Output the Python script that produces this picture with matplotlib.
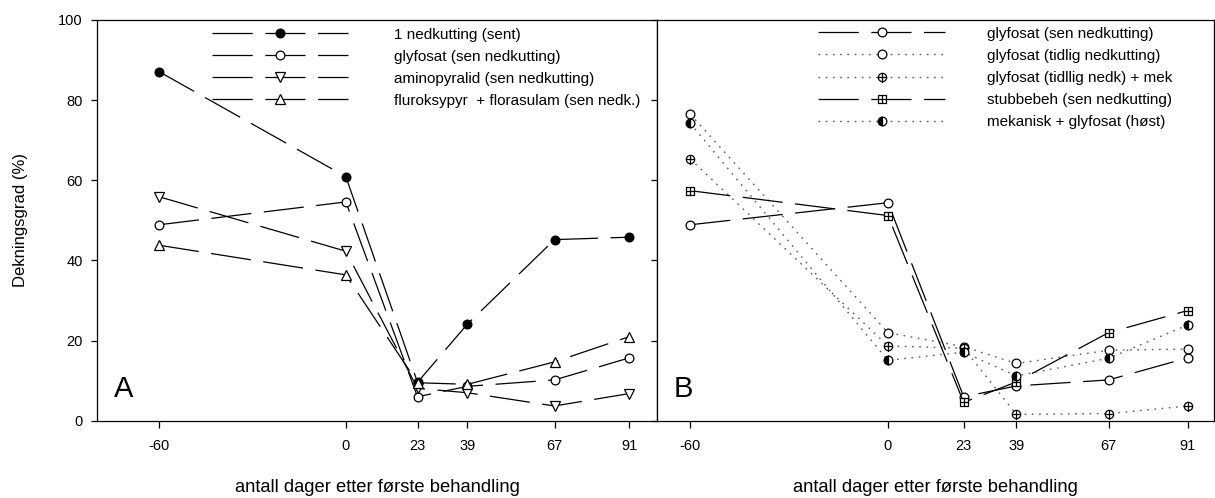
import matplotlib.pyplot as plt
from matplotlib.path import Path

plt.rcParams['font.family'] = ['Liberation Sans', 'DejaVu Sans']
plt.rcParams['lines.scale_dashes'] = False

days = [-60, 0, 23, 39, 67, 91]
xticks = [-60, 0, 23, 39, 67, 91]

# panel A
a_labels = ['1 nedkutting (sent)', 'glyfosat (sen nedkutting)',
            'aminopyralid (sen nedkutting)', 'fluroksypyr  + florasulam (sen nedk.)']
a_nedkutting = [87.1, 60.9, 9.6, 24.1, 45.2, 45.8]
a_glyfosat = [48.9, 54.6, 6.0, 8.6, 10.2, 15.7]
a_aminopyralid = [55.9, 42.3, 8.1, 7.0, 3.7, 6.8]
a_fluroksypyr = [43.8, 36.4, 9.5, 9.1, 14.7, 21.0]

# panel B
b_labels = ['glyfosat (sen nedkutting)', 'glyfosat (tidlig nedkutting)',
            'glyfosat (tidllig nedk) + mek', 'stubbebeh (sen nedkutting)',
            'mekanisk + glyfosat (høst)']
b_glyf_sen = [48.9, 54.4, 6.0, 8.7, 10.2, 15.7]
b_glyf_tidlig = [76.5, 22.0, 18.5, 14.3, 17.6, 17.9]
b_glyf_mek = [65.3, 18.7, 18.1, 1.6, 1.8, 3.7]
b_stubbe = [57.4, 51.2, 4.6, 9.7, 22.0, 27.5]
b_mek_host = [74.2, 15.1, 17.1, 11.2, 15.6, 23.9]

circ_plus = Path.make_compound_path(
    Path.unit_circle(),
    Path([[-1, 0], [1, 0]], [Path.MOVETO, Path.LINETO]),
    Path([[0, -1.3], [0, 1]], [Path.MOVETO, Path.LINETO]))
sq_plus = Path.make_compound_path(
    Path([[-1, -1], [1, -1], [1, 1], [-1, 1], [-1, -1]],
         [Path.MOVETO, Path.LINETO, Path.LINETO, Path.LINETO, Path.CLOSEPOLY]),
    Path([[-1, 0], [1, 0]], [Path.MOVETO, Path.LINETO]),
    Path([[0, -1], [0, 1]], [Path.MOVETO, Path.LINETO]))

dash = (29, 9)
dot = (1.2, 4)
lw = 0.9

fig = plt.figure(figsize=(12.15, 4.98), dpi=100)
axA = fig.add_axes([0.0796, 0.155, 0.4614, 0.805])
axB = fig.add_axes([0.541, 0.155, 0.4582, 0.805])

kw = dict(color='black', lw=lw, mec='black', mew=0.9)
axA.plot(days, a_nedkutting, marker='o', ms=6.3, mfc='black', dashes=dash, label=a_labels[0], **kw)
axA.plot(days, a_glyfosat, marker='o', ms=6.3, mfc='white', dashes=dash, label=a_labels[1], **kw)
axA.plot(days, a_aminopyralid, marker='v', ms=7.3, mfc='white', dashes=dash, label=a_labels[2], **kw)
axA.plot(days, a_fluroksypyr, marker='^', ms=7.3, mfc='white', dashes=dash, label=a_labels[3], **kw)

axB.plot(days, b_glyf_sen, marker='o', ms=6.3, mfc='white', dashes=dash, label=b_labels[0], **kw)
dkw = dict(color='0.35', lw=1.0, mec='black', mew=0.9)
axB.plot(days, b_glyf_tidlig, marker='o', ms=6.3, mfc='white', dashes=dot, label=b_labels[1], **dkw)
axB.plot(days, b_glyf_mek, marker=circ_plus, ms=7.8, mfc='white', dashes=dot, label=b_labels[2], **dkw)
axB.plot(days, b_stubbe, marker=sq_plus, ms=6.2, mfc='white', dashes=dash, label=b_labels[3], **kw)
axB.plot(days, b_mek_host, marker='o', ms=6.3, fillstyle='left', mfc='black', mfcalt='white',
         dashes=dot, label=b_labels[4], **dkw)

for ax, xl in ((axA, (-80, 100)), (axB, (-70, 99))):
    ax.set_xlim(*xl)
    ax.set_ylim(0, 100)
    ax.set_xticks(xticks)
    ax.set_xticklabels([str(t) for t in xticks], fontsize=10.5)
    ax.set_xlabel('antall dager etter første behandling', fontsize=13.2, labelpad=19)
    ax.tick_params(axis='x', direction='out', length=5, width=0.9, pad=8)
    ax.tick_params(axis='y', direction='out', length=4, width=0.9, pad=6, labelsize=10.5)
    for s in ax.spines.values():
        s.set_linewidth(0.9)

axA.set_yticks([0, 20, 40, 60, 80, 100])
axA.set_ylabel('Dekningsgrad (%)', fontsize=12, labelpad=22)
axB.set_yticks([0, 20, 40, 60, 80, 100])
axB.set_yticklabels([])

axA.text(0.03, 0.06, 'A', transform=axA.transAxes, fontsize=21)
axB.text(0.03, 0.06, 'B', transform=axB.transAxes, fontsize=21)

axA.legend(loc='upper left', bbox_to_anchor=(0.205, 0.981), frameon=False, fontsize=11,
           handlelength=8.95, handletextpad=3.0, labelspacing=0.53, borderpad=0,
           borderaxespad=0, numpoints=1)
axB.legend(loc='upper left', bbox_to_anchor=(0.289, 0.983), frameon=False, fontsize=11,
           handlelength=8.3, handletextpad=2.75, labelspacing=0.53, borderpad=0,
           borderaxespad=0, numpoints=1)

fig.savefig('out.png', dpi=100)
